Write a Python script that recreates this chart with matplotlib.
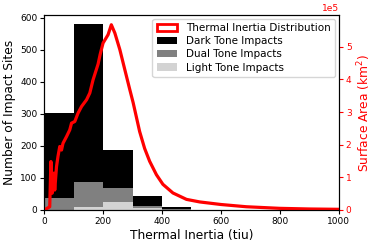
import matplotlib
matplotlib.use("Agg")
import matplotlib.pyplot as plt
from matplotlib.patches import Patch

bin_edges = [0, 100, 200, 300, 400, 500]
dark_counts = [302, 580, 187, 42, 8]
dual_counts = [38, 88, 68, 13, 2]
light_counts = [1, 10, 26, 5, 0]

ti_x = [0, 10, 19, 23, 27, 33, 36, 42, 47, 53, 59, 64, 76, 87, 93, 104, 115, 127, 144, 155, 166, 183,
        190, 200, 217, 228, 240, 257, 274, 290, 302, 313, 324, 341, 358, 381, 403, 437, 483, 528,
        600, 686, 800, 900, 1000]
ti_left = [0, 5, 10, 151, 52, 115, 62, 135, 167, 198, 187, 208, 229, 250, 271, 276, 302, 323, 344, 365,
           406, 455, 485, 521, 547, 578, 552, 500, 437, 378, 335, 290, 245, 192, 152, 110, 80, 53, 33, 25,
           17, 10, 5, 3, 2]
area_scale = 5.98e5 / 609
ti_area = [v * area_scale for v in ti_left]

fig, ax = plt.subplots(figsize=(3.74, 2.47), dpi=100)
widths = [bin_edges[i+1] - bin_edges[i] for i in range(len(dark_counts))]
lefts = bin_edges[:-1]
ax.bar(lefts, dark_counts, width=widths, align='edge', color='black')
ax.bar(lefts, dual_counts, width=widths, align='edge', color='gray')
ax.bar(lefts, light_counts, width=widths, align='edge', color='lightgray')
ax.set_xlim(0, 1000)
ax.set_ylim(0, 609)
ax.set_xlabel('Thermal Inertia (tiu)', fontsize=8.8, labelpad=2)
ax.set_ylabel('Number of Impact Sites', fontsize=8.8, labelpad=3)
ax.tick_params(labelsize=6.5, pad=2, length=3)

ax2 = ax.twinx()
ax2.plot(ti_x, ti_area, color='red', lw=2.3)
ax2.set_ylim(0, 5.98e5)
ax2.set_ylabel('Surface Area (km$^2$)', color='red', fontsize=8.8, labelpad=3)
ax2.tick_params(axis='y', colors='red', labelsize=6.5, pad=2, length=3)
ax2.ticklabel_format(axis='y', style='sci', scilimits=(0, 0))
ax2.yaxis.get_offset_text().set_color('red')
ax2.yaxis.get_offset_text().set_fontsize(6.5)

handles = [Patch(facecolor='white', edgecolor='red', lw=2, label='Thermal Inertia Distribution'),
           Patch(facecolor='black', label='Dark Tone Impacts'),
           Patch(facecolor='gray', label='Dual Tone Impacts'),
           Patch(facecolor='lightgray', label='Light Tone Impacts')]
ax2.legend(handles=handles, loc='upper right', fontsize=7.5, handlelength=2, borderpad=0.4,
           labelspacing=0.3, borderaxespad=0.4)

fig.subplots_adjust(left=0.118, right=0.906, top=0.94, bottom=0.15)
fig.savefig('out.png', dpi=100)
